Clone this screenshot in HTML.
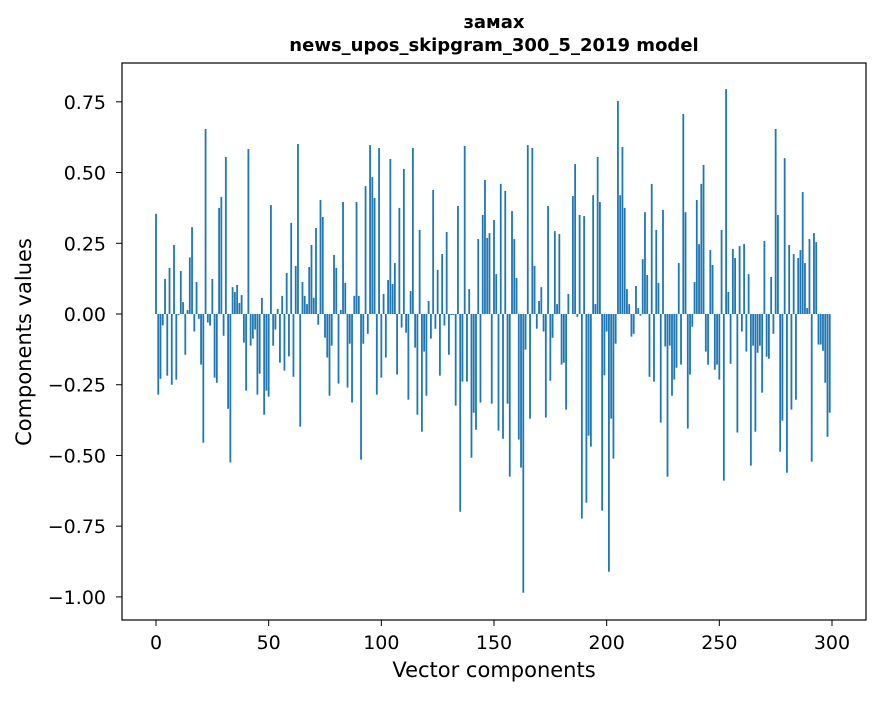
<!DOCTYPE html>
<html><head><meta charset="utf-8"><style>
body{margin:0;background:#fff;}
svg text{font-family:"DejaVu Sans","Liberation Sans",sans-serif;fill:#000;}
</style></head><body>
<svg id="chart" width="880" height="696" xmlns="http://www.w3.org/2000/svg">
<rect width="880" height="696" fill="#fff"/>
<text x="494" y="28" font-size="18" font-weight="bold" text-anchor="middle">замах</text>
<text x="494" y="51" font-size="18" font-weight="bold" text-anchor="middle">news_upos_skipgram_300_5_2019 model</text>
<g id="bars"></g>
<g id="axes"></g>
<rect x="122" y="63" width="744" height="557" fill="none" stroke="#000" stroke-width="1.2"/>
<text x="494" y="677" font-size="21" text-anchor="middle">Vector components</text>
<text x="31" y="342" font-size="21" text-anchor="middle" transform="rotate(-90 31 342)">Components values</text>
</svg>
<script>
const values = [0.354,-0.285,-0.229,-0.04,0.124,-0.218,0.163,-0.25,0.244,-0.232,
-0.004,0.152,0.042,-0.144,0.014,0.2,0.307,-0.062,0.113,-0.017,
-0.179,-0.455,0.654,-0.03,-0.041,0.124,-0.225,-0.243,0.375,0.414,
-0.077,0.555,-0.335,-0.525,0.095,0.078,0.103,0.039,0.067,-0.101,
-0.271,0.583,-0.112,-0.087,-0.055,-0.285,-0.211,0.057,-0.356,-0.271,
-0.292,0.385,-0.112,-0.055,0.018,-0.172,0.064,-0.2,0.145,-0.15,
0.322,-0.222,0.17,0.601,-0.398,0.113,0.064,0.035,0.166,0.244,
0.057,0.304,-0.038,0.403,0.343,-0.084,-0.154,-0.289,-0.112,0.209,
0.163,-0.246,0.014,0.396,0.11,-0.26,-0.105,-0.313,0.064,0.396,
0.064,-0.515,-0.105,0.452,-0.07,0.597,0.484,0.41,-0.285,0.587,
-0.225,0.071,-0.154,0.12,0.548,0.106,0.18,-0.214,0.375,-0.048,
0.513,-0.066,-0.303,0.081,0.587,-0.119,-0.356,0.297,-0.416,-0.133,
-0.289,0.046,-0.087,0.438,-0.052,0.156,-0.218,0.212,-0.041,0.29,
-0.144,-0.004,-0.004,-0.324,0.382,-0.699,-0.239,0.594,-0.239,0.088,
-0.508,-0.349,-0.409,0.265,-0.313,0.35,0.474,0.269,0.286,-0.317,
0.332,0.141,-0.412,0.46,-0.441,0.435,-0.317,-0.575,0.364,0.265,
0.127,-0.444,-0.543,-0.985,-0.126,0.597,-0.37,0.587,0.17,-0.052,
0.046,0.095,-0.062,-0.366,0.382,-0.236,-0.084,0.293,0.035,0.283,
-0.179,-0.172,-0.338,0.071,0.0,0.417,0.53,-0.01,0.35,-0.723,
0.346,-0.667,-0.43,-0.469,0.42,0.035,0.555,0.396,-0.695,-0.217,
-0.062,-0.911,-0.37,-0.511,-0.105,0.753,0.42,0.59,0.375,0.088,
0.035,-0.08,-0.07,0.099,0.021,-0.006,0.194,0.36,0.138,-0.222,
0.46,-0.239,0.297,0.11,-0.384,0.368,-0.115,-0.575,-0.112,-0.289,
-0.232,-0.19,0.18,-0.179,0.707,0.36,-0.405,-0.214,-0.045,0.113,
0.403,0.247,0.46,0.527,-0.133,-0.179,0.226,0.173,-0.197,-0.179,
-0.232,0.297,-0.589,0.795,0.078,-0.176,0.23,0.198,-0.419,0.24,
-0.062,0.247,-0.133,0.141,-0.536,-0.112,-0.416,-0.137,-0.112,-0.278,
0.258,-0.151,-0.158,0.131,-0.07,0.654,0.35,-0.487,-0.377,0.551,
-0.561,0.244,-0.338,0.212,-0.303,0.198,0.226,0.431,0.18,0.021,
0.265,-0.522,0.286,0.254,-0.108,-0.108,-0.13,-0.243,-0.434,-0.349];
const xTicks = [0,50,100,150,200,250,300];
const yTicks = [0.75,0.5,0.25,0,-0.25,-0.5,-0.75,-1.0];
const yTickLabels = ["0.75","0.50","0.25","0.00","−0.25","−0.50","−0.75","−1.00"];

const NS = "http://www.w3.org/2000/svg";
function xs(v){return 156 + v*2.2533;}
function ys(v){return 314 - v*282.9;}
const bars = document.getElementById('bars');
values.forEach((v,i)=>{
  const r = document.createElementNS(NS,'rect');
  const y0 = ys(Math.max(v,0)), y1 = ys(Math.min(v,0));
  r.setAttribute('x', xs(i-0.4));
  r.setAttribute('y', y0);
  r.setAttribute('width', 0.8*2.2533);
  r.setAttribute('height', Math.max(y1-y0,0.01));
  r.setAttribute('fill', '#1f77b4');
  
  
  bars.appendChild(r);
});
const axes = document.getElementById('axes');
xTicks.forEach(t=>{
  const l = document.createElementNS(NS,'line');
  l.setAttribute('x1',xs(t));l.setAttribute('x2',xs(t));
  l.setAttribute('y1',620);l.setAttribute('y2',626);
  l.setAttribute('stroke','#000');
  
  
  axes.appendChild(l);
  const tx = document.createElementNS(NS,'text');
  tx.setAttribute('x',xs(t));tx.setAttribute('y',649);
  tx.setAttribute('font-size','19');tx.setAttribute('text-anchor','middle');
  tx.textContent = String(t);
  
  
  axes.appendChild(tx);
});
yTicks.forEach((t,i)=>{
  const l = document.createElementNS(NS,'line');
  l.setAttribute('x1',116);l.setAttribute('x2',122);
  l.setAttribute('y1',ys(t));l.setAttribute('y2',ys(t));
  l.setAttribute('stroke','#000');
  
  
  axes.appendChild(l);
  const tx = document.createElementNS(NS,'text');
  tx.setAttribute('x',106);tx.setAttribute('y',ys(t)+7);
  tx.setAttribute('font-size','19');tx.setAttribute('text-anchor','end');
  tx.textContent = yTickLabels[i];
  
  
  axes.appendChild(tx);
});
</script>
</body></html>
